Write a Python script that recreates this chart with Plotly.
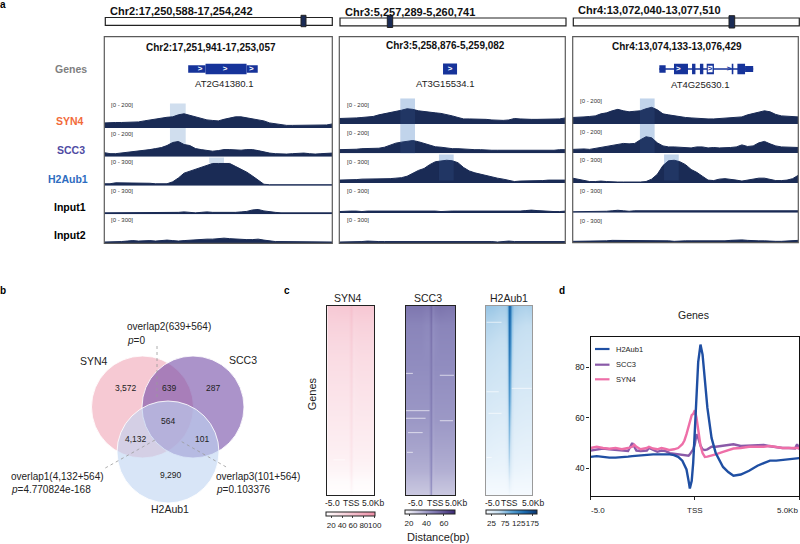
import plotly.graph_objects as go

FONT = "Liberation Sans"
NAVY = "#1a2b55"
W, H = 800, 544

# ---------- panel a data ----------
TRACK_NAMES = ["SYN4", "SCC3", "H2Aub1", "Input1", "Input2"]
TRACK_COLORS = ["#f26b3a", "#4f4ba3", "#2d6cc0", "#000000", "#000000"]
TRACK_MAX = [200, 200, 300, 300, 300]
TRACK_RANGE_LABELS = ["[0 - 200]", "[0 - 200]", "[0 - 300]", "[0 - 300]", "[0 - 300]"]

P1_SYN4 = [35,38,38,38,38,42,42,49,56,63,70,74,77,91,98,88,74,63,56,52,49,60,70,77,77,70,63,56,49,35,28,21,18,18,18,18,18,21,21,21,28]
P1_SCC3 = [28,21,21,25,28,35,38,42,49,56,63,77,98,105,84,77,56,49,42,38,42,49,49,45,45,49,49,42,32,25,21,18,18,21,25,25,21,18,21,25,25]
P1_H2 = [20,20,30,30,30,30,30,30,25,20,20,20,40,80,130,150,170,190,210,230,230,230,230,200,170,140,100,60,15,10,10,10,10,10,10,10,10,10,10,10,10]
P1_IN1 = [15,15,15,15,20,20,15,15,15,20,15,15,20,20,25,20,15,20,25,20,20,15,15,20,25,30,45,50,35,25,20,15,15,15,15,20,20,15,15,15,15]
P1_IN2 = [10,10,10,15,20,25,20,25,25,20,25,30,25,20,25,30,35,35,40,40,45,50,45,40,40,35,35,40,30,20,15,15,15,15,15,15,15,10,10,10,10]

P2_SYN4 = [38,38,38,42,45,49,52,63,70,77,84,95,105,101,91,88,80,77,73,66,56,45,35,35,35,35,32,28,25,25,28,38,35,32,32,32,32,32,32,35,42]
P2_SCC3 = [25,25,25,28,32,32,32,35,42,56,70,77,84,88,80,70,60,45,42,35,32,32,28,28,25,25,21,21,21,21,21,21,18,21,21,21,21,21,21,25,25]
P2_H2 = [30,30,35,35,40,40,40,45,45,45,50,55,70,100,130,150,190,220,230,235,230,210,160,125,105,90,80,65,50,40,25,15,20,20,20,25,25,30,30,30,30]
P2_IN1 = [15,20,20,20,15,20,20,20,20,25,25,25,25,25,25,20,20,20,15,20,20,20,20,20,20,20,15,15,15,15,15,20,20,25,30,25,20,15,15,15,20]
P2_IN2 = [10,10,15,15,15,20,15,15,15,15,20,20,20,15,15,15,15,15,15,15,20,20,20,15,15,15,20,15,10,15,20,15,15,15,15,15,15,10,10,15,15]

P3_SYN4 = [45,45,49,52,56,70,77,91,101,91,84,88,91,105,115,98,70,63,56,49,45,42,38,35,35,35,38,42,45,49,49,63,73,84,91,84,66,56,52,52,49]
P3_SCC3 = [25,28,28,25,32,42,45,56,63,66,63,66,91,112,105,70,49,42,42,38,35,35,42,42,35,38,35,35,38,42,56,45,49,70,80,63,49,42,42,38,38]
P3_H2 = [50,40,25,15,15,20,15,10,10,10,10,5,10,15,40,90,180,230,235,220,190,140,110,70,30,25,40,45,40,30,20,30,45,50,50,35,25,25,30,45,80]
P3_IN1 = [10,10,15,15,15,15,15,20,25,20,15,20,20,15,15,15,15,15,20,15,15,15,15,15,15,15,15,20,15,15,15,15,15,15,15,15,15,15,15,15,20]
P3_IN2 = [10,10,10,10,10,15,15,20,20,20,20,15,15,20,15,15,15,15,10,15,15,15,15,15,15,10,10,15,20,25,25,20,15,15,15,10,10,10,15,15,20]

PANEL_TRACKS = [[P1_SYN4, P1_SCC3, P1_H2, P1_IN1, P1_IN2],
                [P2_SYN4, P2_SCC3, P2_H2, P2_IN1, P2_IN2],
                [P3_SYN4, P3_SCC3, P3_H2, P3_IN1, P3_IN2]]
PANEL_BASELINES = [[128, 156.7, 185.7, 214.3, 243], [124, 153.3, 183, 213, 243], [124, 153, 183, 212.7, 242.3]]
PANEL_X = [(104.3, 332.3), (339.3, 565.3), (572.7, 798.3)]
PANEL_BOTTOM = [243.3, 243.3, 242.6]
RANGE_LABEL_X = [109, 344.7, 578]
RANGE_LABEL_Y = [[105, 133.7, 162.3, 191.3, 220], [104.7, 133, 162, 191, 220], [101.3, 132, 159.7, 190.7, 220.7]]

TOP_TITLES = ["Chr2:17,250,588-17,254,242", "Chr3:5,257,289-5,260,741", "Chr4:13,072,040-13,077,510"]
TOP_TITLE_POS = [(107.5, 11.3), (342.7, 11.7), (576, 10.3)]
TOP_BARS = [(105.3, 332.3, 17.5, 25.3), (340, 566, 18, 25.8), (573.3, 799.3, 18, 25.8)]
TOP_MARKERS = [(301, 306, 15.3, 26.7), (387.3, 392.7, 15.7, 27.5), (729, 734.7, 15.7, 28)]
INNER_TITLES = ["Chr2:17,251,941-17,253,057", "Chr3:5,258,876-5,259,082", "Chr4:13,074,133-13,076,429"]
INNER_TITLE_POS = [(210.7, 47.3), (445, 45.3), (677.3, 46.3)]
GENE_NAMES = ["AT2G41380.1", "AT3G15534.1", "AT4G25630.1"]
GENE_NAME_POS = [(224.3, 83.3), (445, 83.3), (700, 84)]

# exons: start %, end %, half height
GENE_EXONS = [
    [(36.8, 44.4, 0.42), (44.4, 62.4, 0.58), (62.4, 67.3, 0.42)],
    [(45.9, 52.1, 0.6)],
    [(38.4, 41.2, 0.42), (44.9, 51.1, 0.58), (52.9, 54.4, 0.58), (56.4, 57.9, 0.58),
     (59.4, 62.6, 0.58), (70.5, 71.2, 0.58), (73.0, 76.4, 0.58), (76.4, 80.0, 0.33)],
]
GENE_LINES = [None, None, (38.4, 80.0)]
GENE_WHITE_BOX = [(), (), (59.9, 62.0)]
GENE_CHEVRONS = [[42, 53, 64.5], [49], [46.8]]
GENE_BLUE_CHEVRONS = [[], [], [60.9, 69.3]]

# highlighted windows: x0 %, x1 %, top px, bottom px
HIGHLIGHTS = [
    [(28.8, 35.7, 103.5, 146.7), (46.0, 52.5, 157.5, 163.5)],
    [(27.0, 33.5, 98.5, 153.3), (44.1, 50.6, 154.5, 180.5)],
    [(29.8, 36.3, 98.5, 153), (40.5, 47.0, 154.5, 180.5)],
]
HIGHLIGHT_TINT = [False, True, True]

SIDE_LABELS = ["Genes", "SYN4", "SCC3", "H2Aub1", "Input1", "Input2"]
SIDE_COLORS = ["#7f7f7f"] + TRACK_COLORS
SIDE_X = [71, 69.5, 70.5, 67.5, 69.5, 70]
SIDE_Y = [69, 121, 150, 178.5, 206.5, 235]

# ---------- panel b data ----------
VENN_NAMES = ["SYN4", "SCC3", "H2Aub1"]
VENN_CX = [142.5, 193, 168]
VENN_CY = [407, 407, 452]
VENN_R = [51, 51, 51]
VENN_FILL = ["#f6c9d3", "rgba(120,80,170,0.62)", "rgba(190,212,242,0.6)"]
VENN_COUNTS = ["3,572", "639", "287", "564", "4,132", "101", "9,290"]
VENN_COUNT_X = [126.3, 169, 213, 168, 135.7, 202, 170.7]
VENN_COUNT_Y = [387.7, 388, 388, 421, 439, 439, 475]
VENN_NAME_X = [94.3, 242.7, 170]
VENN_NAME_Y = [361, 360, 509]
VENN_LEADER_X = [[157, 157], [105.3, 155], [181.7, 228]]
VENN_LEADER_Y = [[346, 400], [468, 440], [441.7, 468]]
VENN_NOTES = ["overlap2(639+564)", "<i>p</i>=0", "overlap1(4,132+564)", "<i>p</i>=4.770824e-168",
              "overlap3(101+564)", "<i>p</i>=0.103376"]
VENN_NOTE_X = [125, 125, 9.3, 9.3, 214.3, 214.3]
VENN_NOTE_Y = [326, 340, 476, 489, 476, 489]

# ---------- panel c data ----------
HM_X = [-5, -3.5, -2, -1, -0.5, -0.25, 0, 0.25, 0.5, 1, 2, 3.5, 5]
HM_Y = [0, 0.1, 0.2, 0.3, 0.4, 0.5, 0.6, 0.7, 0.8, 0.87, 0.93, 1]
SYN4_Z = [
    [54,54,55,55,55,56,62,56,53,54,55,55,55],
    [47,47,47,47,47,49,55,49,45,46,47,47,47],
    [42,42,42,42,42,44,50,44,39,41,42,42,42],
    [38,38,38,38,38,40,46,40,35,37,38,38,38],
    [35,35,35,35,35,37,43,37,32,34,35,35,35],
    [32,32,32,32,32,34,40,34,29,31,32,32,32],
    [29,29,29,29,29,31,37,31,27,29,29,29,29],
    [26,26,26,26,26,28,34,28,25,26,26,26,26],
    [23,23,23,23,23,25,31,25,22,23,23,23,23],
    [19,19,19,19,19,21,28,21,19,19,19,19,19],
    [14,14,14,14,14,15,22,16,14,14,14,14,14],
    [12,12,12,12,12,12,14,12,12,12,12,12,12],
]
SCC3_Z = [
    [50,50,50,49,49,50,54,50,48,50,51,50,50],
    [46,46,46,45,45,46,51,46,44,45,46,46,46],
    [45,45,45,44,44,45,50,45,43,44,45,45,45],
    [44,44,44,44,44,45,49,45,43,44,44,44,44],
    [43,43,43,43,43,44,49,44,42,43,43,43,43],
    [42,42,42,42,42,43,48,43,41,42,42,42,42],
    [41,41,41,41,41,42,47,42,40,41,41,41,41],
    [39,39,39,39,39,41,46,41,38,39,39,39,39],
    [37,37,37,37,37,39,45,39,36,37,37,37,37],
    [35,35,35,35,35,37,44,37,34,35,35,35,35],
    [32,32,32,32,32,34,43,34,32,32,32,32,32],
    [29,29,29,29,29,31,41,31,29,29,29,29,29],
]
H2_Z = [
    [72,70,66,66,70,95,150,150,85,68,64,62,64],
    [60,58,56,56,60,85,145,140,72,56,54,52,52],
    [54,52,50,50,54,78,140,130,64,50,48,46,46],
    [48,46,44,44,48,72,130,115,58,45,43,42,42],
    [43,41,40,40,44,66,120,100,52,40,38,38,38],
    [38,36,35,35,39,58,110,88,46,36,34,33,33],
    [33,31,30,30,34,50,95,72,40,31,30,29,29],
    [28,26,25,25,29,42,82,58,33,26,25,24,24],
    [22,21,20,20,23,33,66,44,26,21,20,20,20],
    [17,16,16,16,18,24,48,32,20,16,16,15,15],
    [11,11,11,11,12,14,26,19,13,11,11,11,11],
    [7,7,7,7,7,7,9,8,7,7,7,7,7],
]
HM_AXES = [(327.3, 374.3), (406, 455), (485.7, 532.3)]
HM_TOP, HM_BOTTOM = 306, 495.3
HM_NAMES = ["SYN4", "SCC3", "H2Aub1"]
HM_BORDERS = ["#222222", "#222222", "#9a9a9a"]
HM_TITLE_X = [348.3, 427.7, 509.3]
HM_SCALES = [
    [[0, "#ffffff"], [1, "#ee8ea6"]],
    [[0, "#ffffff"], [0.5, "#908cbf"], [1, "#3b2874"]],
    [[0, "#f7fbff"], [0.25, "#c6dff1"], [0.5, "#5ba3d5"], [0.75, "#1c6cb0"], [1, "#0a3570"]],
]
HM_ZMIN = [11, 15.4, 5]
HM_ZMAX = [101, 72.6, 192]
CB_TICKS = [[20, 40, 60, 80, 100], [20, 40, 60], [25, 75, 125, 175]]
CB_BOX = [(326.3, 375, 511.7), (405, 455, 510), (486, 536.7, 510)]
STREAKS = [
    [(0.813, -3.7, -1.2)],
    [(0.356, -5, -3.6), (0.366, 1.9, 4.8), (0.553, -5, -0.2), (0.593, -5, -1), (0.606, 1.9, 4.6),
     (0.669, -4.6, -1.6), (0.773, -4.8, -3.6)],
    [(0.086, -4.8, -1.6), (0.435, 0.6, 4.9), (0.453, -4.8, -2.2), (0.567, -4.4, -1.6), (0.8, -4.8, -3.7)],
]
HM_TICK_TEXT = ["-5.0", "TSS", "5.0Kb"]
HM_TICK_X = [[332.7, 351.7, 373.3], [415, 435.3, 456], [492.3, 509.3, 533.3]]

# ---------- panel d data ----------
D_X = [-5,-4.7,-4.4,-4.1,-3.8,-3.5,-3.2,-3.0,-2.9,-2.8,-2.6,-2.3,-2.2,-2.0,-1.8,-1.6,-1.4,-1.2,-1.0,-0.8,
       -0.6,-0.5,-0.4,-0.3,-0.24,-0.15,-0.08,0,0.08,0.16,0.27,0.37,0.48,0.6,0.8,1,1.35,1.6,1.85,2.2,
       2.6,3,3.3,3.6,3.9,4.2,4.5,4.8,4.9,5]
D_H2 = [44.5,44.8,44.5,44.2,44.2,44.3,44.6,44.8,44.9,45,45.2,45.4,45.4,45.5,45.5,45.5,45.5,45.5,45.2,44.5,
        43,41.5,39.5,35,32,35,42,55,70,82,89,85,75,64,52,46,40.5,38.5,37,37.5,
        39,41,42,43,43,43.2,43.5,43.8,43.8,44]
D_SCC3 = [47,47.5,47.8,47.5,47.2,46.8,46.8,50,48.5,47,46.8,47,48,47.2,46.5,47,46.8,46,45.8,45.5,
          45.3,45.2,45,45,45.5,46.5,47.5,49.5,53.5,52,49,47.5,47.2,47.5,48.5,48.5,48.8,49.2,49.5,48.8,
          49,49.3,49.2,48.7,48.3,48,48,47.8,49.5,47.5]
D_SYN4 = [48,48.5,48,47.7,48,47.5,48,48.5,49.3,48.5,47.5,48,48.5,47.8,47.5,48,47.6,47.2,47.5,48,
          49.5,51,53.5,57,59,61,61.5,63,60,55,49,46,44.5,44.6,45,45.5,46.5,47,47.8,48,
          48.5,48.5,48.5,48.8,48.5,48,48,48,48.3,48]
D_COLORS = {"H2Aub1": "#1f4fa3", "SCC3": "#8a5aa8", "SYN4": "#ee6fa8"}
D_BOX = (590.5, 799.2, 336.7, 496)
D_YRANGE = [29.0, 92.1]
D_TICKS = [40, 60, 80]
D_LEGEND = ["H2Aub1", "SCC3", "SYN4"]
D_LEGEND_Y = [349, 364.7, 379.3]
D_XLABELS = ["-5.0", "TSS", "5.0Kb"]
D_XLABEL_X = [598, 695, 787]

PANEL_LETTERS = ["a", "b", "c", "d"]
LETTER_POS = [(3, 5), (3, 290), (287, 290), (562, 290)]

# ---------- helpers ----------
fig = go.Figure()
layout = {}
shapes, annos = [], []
axis_count = {"x": 0, "y": 0}


def px(x):
    return x / W


def py(y):
    return 1 - y / H


def new_x(x0, x1, rng, **kw):
    axis_count["x"] += 1
    n = axis_count["x"]
    layout[f"xaxis{n}" if n > 1 else "xaxis"] = dict(domain=[px(x0), px(x1)], range=rng, visible=kw.pop("visible", False),
                                                      fixedrange=True, **kw)
    return f"x{n}" if n > 1 else "x"


def new_y(y0, y1, rng, **kw):
    axis_count["y"] += 1
    n = axis_count["y"]
    layout[f"yaxis{n}" if n > 1 else "yaxis"] = dict(domain=[py(y1), py(y0)], range=rng, visible=kw.pop("visible", False),
                                                      fixedrange=True, **kw)
    return f"y{n}" if n > 1 else "y"


def link(xref, yref):
    xk = "xaxis" + xref[1:]
    yk = "yaxis" + yref[1:]
    layout[xk]["anchor"] = yref
    layout[yk]["anchor"] = xref


def text(t, x, y, size, color="#111111", bold=False, anchor="center", angle=0):
    annos.append(dict(text=f"<b>{t}</b>" if bold else t, x=px(x), y=py(y), xref="paper", yref="paper",
                      showarrow=False, xanchor=anchor, yanchor="middle", textangle=angle,
                      font=dict(family=FONT, size=size, color=color)))


def page_rect(x0, x1, y0, y1, fill=None, line=None, width=1, layer="above"):
    shapes.append(dict(type="rect", xref="paper", yref="paper", x0=px(x0), x1=px(x1), y0=py(y1), y1=py(y0),
                       fillcolor=fill or "rgba(0,0,0,0)", line=dict(color=line or "rgba(0,0,0,0)", width=width),
                       layer=layer))


# ---------- panel a ----------
for c in range(3):
    x0, x1 = PANEL_X[c]
    xa = new_x(x0, x1, [0, 100])
    # highlights
    for hx0, hx1, ht, hb in HIGHLIGHTS[c]:
        shapes.append(dict(type="rect", xref=xa, yref="paper", x0=hx0, x1=hx1, y0=py(hb), y1=py(ht),
                           fillcolor="#d0deee", line=dict(width=0), layer="below"))
        if HIGHLIGHT_TINT[c]:
            shapes.append(dict(type="rect", xref=xa, yref="paper", x0=hx0, x1=hx1, y0=py(hb), y1=py(ht),
                               fillcolor="rgba(90,140,210,0.12)", line=dict(width=0), layer="above"))
    for t in range(5):
        base = PANEL_BASELINES[c][t]
        ya = new_y(base - 29, base, [0, TRACK_MAX[t]])
        layout["yaxis" + ya[1:]]["anchor"] = xa
        vals = PANEL_TRACKS[c][t]
        xs = [i * 100 / (len(vals) - 1) for i in range(len(vals))]
        fig.add_trace(go.Scatter(x=xs, y=vals, xaxis=xa, yaxis=ya, mode="lines", fill="tozeroy",
                                 fillcolor=NAVY, line=dict(color=NAVY, width=1), showlegend=False,
                                 name=TRACK_NAMES[t], hoverinfo="skip", cliponaxis=True))
        text(TRACK_RANGE_LABELS[t], RANGE_LABEL_X[c], RANGE_LABEL_Y[c][t], 6, "#333333", anchor="left")
    # gene model
    yg = new_y(60, 78, [-1, 1])
    layout["yaxis" + yg[1:]]["anchor"] = xa
    GENE = "#16339a"
    if GENE_LINES[c]:
        shapes.append(dict(type="line", xref=xa, yref=yg, x0=GENE_LINES[c][0], x1=GENE_LINES[c][1], y0=0, y1=0,
                           line=dict(color=GENE, width=1.3), layer="below"))
    for s, e, h in GENE_EXONS[c]:
        shapes.append(dict(type="rect", xref=xa, yref=yg, x0=s, x1=e, y0=-h, y1=h, fillcolor=GENE,
                           line=dict(width=0), layer="below"))
    if GENE_WHITE_BOX[c]:
        s, e = GENE_WHITE_BOX[c]
        shapes.append(dict(type="rect", xref=xa, yref=yg, x0=s, x1=e, y0=-0.35, y1=0.35, fillcolor="#ffffff",
                           line=dict(width=0), layer="below"))
    for pts, col in ((GENE_CHEVRONS[c], "#ffffff"), (GENE_BLUE_CHEVRONS[c], GENE)):
        if pts:
            fig.add_trace(go.Scatter(x=pts, y=[0] * len(pts), xaxis=xa, yaxis=yg, mode="text",
                                     text=[">"] * len(pts), textposition="middle center",
                                     textfont=dict(family=FONT, size=8, color=col, weight="bold"),
                                     showlegend=False, hoverinfo="skip"))
    # frame and headers
    page_rect(x0, x1, 36.7, PANEL_BOTTOM[c], line="#5a5a5a", width=1.2)
    bx0, bx1, by0, by1 = TOP_BARS[c]
    page_rect(bx0, bx1, by0, by1, fill="#ffffff", line="#222222", width=1.2)
    mx0, mx1, my0, my1 = TOP_MARKERS[c]
    page_rect(mx0, mx1, my0, my1, fill=NAVY, line="#222222", width=1)
    text(TOP_TITLES[c], TOP_TITLE_POS[c][0], TOP_TITLE_POS[c][1], 11, bold=True, anchor="left")
    text(INNER_TITLES[c], INNER_TITLE_POS[c][0], INNER_TITLE_POS[c][1], 10, bold=True)
    text(GENE_NAMES[c], GENE_NAME_POS[c][0], GENE_NAME_POS[c][1], 9.5, "#222222")

for lab, col, x, y in zip(SIDE_LABELS, SIDE_COLORS, SIDE_X, SIDE_Y):
    text(lab, x, y, 10.5, col, bold=True)

# ---------- panel b ----------
xv = new_x(0, W, [0, W])
yv = new_y(0, H, [H, 0])
link(xv, yv)
for cx, cy, r, fill in zip(VENN_CX, VENN_CY, VENN_R, VENN_FILL):
    shapes.append(dict(type="circle", xref=xv, yref=yv, x0=cx - r, x1=cx + r, y0=cy - r, y1=cy + r,
                       fillcolor=fill, line=dict(color="rgba(255,255,255,0.85)", width=1), layer="below"))
for lx, ly in zip(VENN_LEADER_X, VENN_LEADER_Y):
    fig.add_trace(go.Scatter(x=lx, y=ly, xaxis=xv, yaxis=yv, mode="lines", showlegend=False, hoverinfo="skip",
                             line=dict(color="#9a9a9a", width=0.8, dash="dot")))
for t, x, y in zip(VENN_COUNTS, VENN_COUNT_X, VENN_COUNT_Y):
    text(t, x, y, 8.5, "#222222")
for t, x, y in zip(VENN_NAMES, VENN_NAME_X, VENN_NAME_Y):
    text(t, x, y, 10.5, "#222222")
for t, x, y in zip(VENN_NOTES, VENN_NOTE_X, VENN_NOTE_Y):
    text(t, x, y, 10, "#222222", anchor="left")

# ---------- panel c ----------
for i, z in enumerate([SYN4_Z, SCC3_Z, H2_Z]):
    x0, x1 = HM_AXES[i]
    xa = new_x(x0, x1, [-5, 5], visible=True, showticklabels=False, ticks="", showgrid=False, zeroline=False,
               mirror=True, showline=True, linecolor=HM_BORDERS[i], linewidth=1)
    ya = new_y(HM_TOP, HM_BOTTOM, [1, 0], visible=True, showticklabels=False, ticks="", showgrid=False, zeroline=False,
               mirror=True, showline=True, linecolor=HM_BORDERS[i], linewidth=1)
    link(xa, ya)
    cx0, cx1, cy0 = CB_BOX[i]
    fig.add_trace(go.Heatmap(x=HM_X, y=HM_Y, z=z, xaxis=xa, yaxis=ya, zsmooth="best", colorscale=HM_SCALES[i],
                             zmin=HM_ZMIN[i], zmax=HM_ZMAX[i], hoverinfo="skip", name=HM_NAMES[i],
                             colorbar=dict(orientation="h", x=px(cx0), xanchor="left", y=py(cy0), yanchor="top",
                                           len=(cx1 - cx0) / W, lenmode="fraction", thickness=4,
                                           thicknessmode="pixels", xpad=0, ypad=0, tickvals=CB_TICKS[i],
                                           tickangle=0, ticks="outside", ticklen=2, tickwidth=0.6,
                                           outlinecolor="#222222", outlinewidth=1, borderwidth=0,
                                           tickfont=dict(family=FONT, size=8, color="#222222"))))
    sx, sy = [], []
    for yy, a, b in STREAKS[i]:
        sx += [a, b, None]
        sy += [yy, yy, None]
    fig.add_trace(go.Scatter(x=sx, y=sy, xaxis=xa, yaxis=ya, mode="lines", showlegend=False, hoverinfo="skip",
                             line=dict(color="rgba(255,255,255,0.8)", width=0.8)))
    text(HM_NAMES[i], HM_TITLE_X[i], 298, 10.5, "#222222")
    for t, x in zip(HM_TICK_TEXT, HM_TICK_X[i]):
        text(t, x, 502.7, 8.5, "#222222")
text("Genes", 312.3, 394, 11, "#222222", angle=-90)
text("Distance(bp)", 438, 537, 11, "#222222")

# ---------- panel d ----------
dx0, dx1, dy0, dy1 = D_BOX
xa = new_x(dx0, dx1, [-5, 5], visible=True, tickvals=[-5, 0, 5], ticktext=["", "", ""], ticks="outside", ticklen=3,
           tickwidth=1, tickcolor="#222222", showgrid=False, zeroline=False, mirror=True, showline=True,
           linecolor="#111111", linewidth=1.4)
ya = new_y(dy0, dy1, D_YRANGE, visible=True, tickvals=D_TICKS, ticks="outside", ticklen=3, tickwidth=1,
           tickcolor="#222222", showgrid=False, zeroline=False, mirror=True, showline=True, linecolor="#111111",
           linewidth=1.4, tickfont=dict(family=FONT, size=8.5, color="#222222"))
link(xa, ya)
for nm, vals in (("SCC3", D_SCC3), ("SYN4", D_SYN4), ("H2Aub1", D_H2)):
    fig.add_trace(go.Scatter(x=D_X, y=vals, xaxis=xa, yaxis=ya, mode="lines", name=nm, showlegend=False,
                             line=dict(color=D_COLORS[nm], width=2.4), hoverinfo="skip"))
for nm, y in zip(D_LEGEND, D_LEGEND_Y):
    shapes.append(dict(type="line", xref="paper", yref="paper", x0=px(595), x1=px(609.5), y0=py(y), y1=py(y),
                       line=dict(color=D_COLORS[nm], width=2.2), layer="above"))
    text(nm, 614, y, 7.5, "#222222", anchor="left")
for t, x in zip(D_XLABELS, D_XLABEL_X):
    text(t, x, 510, 8, "#222222")
text("Genes", 693.3, 315, 10.5, "#222222")

for t, (x, y) in zip(PANEL_LETTERS, LETTER_POS):
    text(t, x, y, 10, "#000000", bold=True)

fig.update_layout(width=W, height=H, margin=dict(l=0, r=0, t=0, b=0), paper_bgcolor="#ffffff",
                  plot_bgcolor="rgba(0,0,0,0)", showlegend=False, shapes=shapes, annotations=annos,
                  font=dict(family=FONT), **layout)
fig.write_html("out.html", config={"displayModeBar": False},
               post_script="document.body.style.margin='0';document.body.style.overflow='hidden';")
